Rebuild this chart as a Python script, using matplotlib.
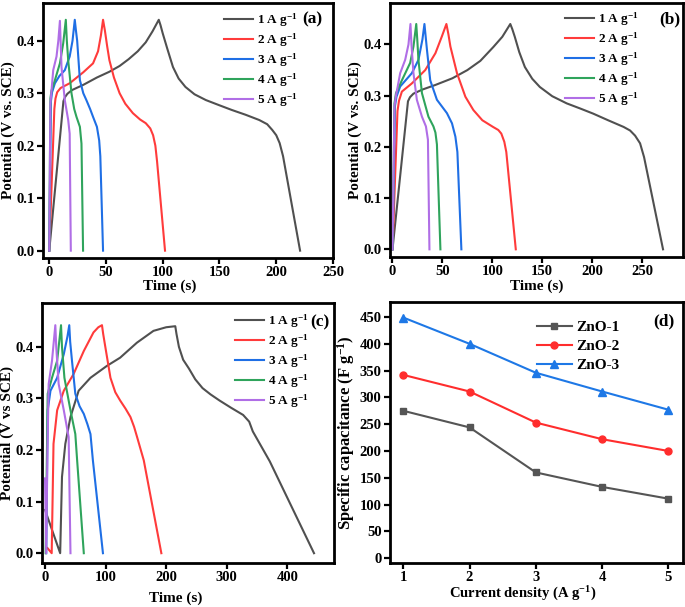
import matplotlib
matplotlib.use("Agg")
import matplotlib.pyplot as plt

plt.rcParams['font.family'] = ['Liberation Serif', 'DejaVu Serif']
plt.rcParams['font.weight'] = 'bold'
plt.rcParams['axes.labelweight'] = 'bold'
plt.rcParams['mathtext.fontset'] = 'custom'
plt.rcParams['mathtext.rm'] = 'Liberation Serif:bold'
plt.rcParams['mathtext.bf'] = 'Liberation Serif:bold'
plt.rcParams['mathtext.it'] = 'Liberation Serif:bold'
plt.rcParams['mathtext.default'] = 'bf'

rates = ["1 A g$^{-1}$", "2 A g$^{-1}$", "3 A g$^{-1}$", "4 A g$^{-1}$", "5 A g$^{-1}$"]
colors = ["#505050", "#ff3b3b", "#1f6fe5", "#2fa45c", "#b06ee6"]

# Panel (a): GCD curves (time s, potential V)
a_t = [
    [0, 12.5, 14, 16, 20, 30, 42, 53, 62, 70, 78, 85, 91, 96.5, 98, 100, 104, 109, 114, 120, 128, 138, 150,
     161, 173, 185, 192, 196.5, 200, 203, 206, 221],
    [0, 4.5, 5.5, 7, 10, 18, 30, 38.6, 43, 45.5, 47.4, 49, 51, 53, 57, 62, 67, 73.7, 80, 85, 89, 91.5, 93.5, 95, 102],
    [0, 1.5, 2.5, 5, 9, 13.7, 18, 20.5, 22.5, 23.5, 24.6, 27, 30, 32.7, 36, 38.6, 42, 44, 45, 47.4],
    [0, 1, 2, 5, 9.4, 12.3, 14.6, 15.5, 16.7, 19.6, 22, 24, 27, 28.4, 29.8],
    [0, 1, 2, 3.5, 6.4, 8, 9.4, 10, 10.8, 13.7, 16.7, 18, 19],
]
a_v = [
    [0, 0.285, 0.293, 0.299, 0.306, 0.316, 0.33, 0.341, 0.352, 0.365, 0.38, 0.397, 0.418, 0.44, 0.43, 0.414,
     0.385, 0.35, 0.328, 0.312, 0.298, 0.287, 0.277, 0.268, 0.259, 0.249, 0.241, 0.23, 0.22, 0.205, 0.18, 0],
    [0, 0.27, 0.29, 0.302, 0.31, 0.319, 0.34, 0.357, 0.38, 0.41, 0.44, 0.42, 0.39, 0.363, 0.33, 0.30, 0.28,
     0.262, 0.25, 0.243, 0.233, 0.22, 0.2, 0.17, 0],
    [0, 0.285, 0.302, 0.319, 0.333, 0.344, 0.37, 0.40, 0.44, 0.42, 0.40, 0.325, 0.30, 0.287, 0.27, 0.255,
     0.236, 0.21, 0.18, 0],
    [0, 0.29, 0.305, 0.325, 0.357, 0.395, 0.44, 0.40, 0.363, 0.30, 0.27, 0.255, 0.236, 0.204, 0],
    [0, 0.28, 0.305, 0.344, 0.37, 0.40, 0.438, 0.40, 0.35, 0.287, 0.249, 0.223, 0],
]

# Panel (b)
b_t = [
    [0, 15.5, 17.5, 21, 30, 43, 60, 75, 88, 101, 110, 118, 120, 122.5, 127, 132.6, 140, 147.6, 160, 174.5,
     188, 201, 216, 231.5, 238, 243, 248, 252, 271],
    [0, 5, 6.5, 9.4, 19.4, 32.8, 43, 49.5, 54, 56, 58, 64.6, 73, 81, 90, 100.7, 106, 109, 112, 114, 123.5],
    [0, 2.5, 4, 7.7, 19.4, 26, 30, 32, 33, 34.5, 37.8, 44.5, 54.5, 59.6, 63, 65, 69],
    [0, 2, 3.5, 9.4, 17.7, 21, 23.8, 24.8, 26, 29.5, 36, 41, 43, 44.5, 48],
    [0, 2, 3.5, 7.7, 12.7, 16, 18, 19, 21, 24.4, 29.5, 33.5, 35.5, 37],
]
b_v = [
    [0, 0.289, 0.297, 0.304, 0.312, 0.321, 0.334, 0.35, 0.368, 0.395, 0.415, 0.44, 0.43, 0.415, 0.385,
     0.356, 0.333, 0.317, 0.299, 0.285, 0.275, 0.265, 0.252, 0.239, 0.232, 0.222, 0.207, 0.18, 0],
    [0, 0.27, 0.29, 0.308, 0.324, 0.35, 0.383, 0.416, 0.44, 0.42, 0.396, 0.344, 0.298, 0.272, 0.252, 0.239,
     0.233, 0.226, 0.21, 0.19, 0],
    [0, 0.28, 0.298, 0.318, 0.344, 0.37, 0.41, 0.44, 0.42, 0.39, 0.33, 0.292, 0.266, 0.246, 0.22, 0.19, 0],
    [0, 0.285, 0.305, 0.33, 0.364, 0.396, 0.44, 0.41, 0.37, 0.305, 0.259, 0.24, 0.228, 0.205, 0],
    [0, 0.28, 0.3, 0.344, 0.37, 0.40, 0.44, 0.40, 0.344, 0.292, 0.259, 0.24, 0.214, 0],
]

# Panel (c)
c_t = [
    [0, 25, 28, 33.5, 42, 55.5, 75, 102, 124, 151.6, 179, 200, 215, 217, 221, 228, 237.5, 248, 260, 273, 288,
     307, 327, 337, 343, 371, 444],
    [4, 11, 14, 20, 31, 47, 64, 80, 88, 94, 96, 99.5, 108, 116, 124, 133, 141, 147, 152, 163, 192],
    [2, 4.4, 9, 20, 31, 37, 40, 41.5, 44.5, 50, 57, 64, 70, 75, 79, 95.6],
    [1, 4.4, 11.5, 20, 26.4, 28, 32, 42, 50, 53, 64],
    [0, 2, 4, 6, 11.5, 17, 18.5, 22.5, 31, 39, 42],
]
c_v = [
    [0.084, 0, 0.148, 0.212, 0.264, 0.315, 0.34, 0.363, 0.379, 0.408, 0.431, 0.438, 0.44, 0.425, 0.40, 0.375,
     0.358, 0.337, 0.32, 0.308, 0.296, 0.282, 0.268, 0.255, 0.236, 0.178, 0],
    [0.01, 0, 0.212, 0.277, 0.315, 0.347, 0.392, 0.428, 0.438, 0.442, 0.425, 0.40, 0.34, 0.312, 0.296, 0.28,
     0.264, 0.245, 0.225, 0.18, 0],
    [0, 0.277, 0.315, 0.34, 0.386, 0.42, 0.442, 0.41, 0.373, 0.309, 0.285, 0.27, 0.25, 0.231, 0.18, 0],
    [0, 0.309, 0.34, 0.373, 0.442, 0.40, 0.34, 0.277, 0.231, 0.18, 0],
    [0.145, 0, 0.20, 0.328, 0.373, 0.442, 0.40, 0.328, 0.277, 0.225, 0],
]

# Panel (d)
current_density = [1, 2, 3, 4, 5]
zno1 = [275, 244, 160, 133, 111]
zno2 = [342, 311, 253, 222, 200]
zno3 = [449, 400, 346, 311, 277]

fig = plt.figure(figsize=(6.85, 6.07), dpi=100)
W, H = 685, 607

def add_ax(l, r, t, b):
    return fig.add_axes([l / W, (H - b) / H, (r - l) / W, (b - t) / H])

axa = add_ax(43, 333, 3, 258)
axb = add_ax(390, 683, 3, 257)
axc = add_ax(42, 334, 303, 563)
axd = add_ax(390, 683, 302, 563)

def style(ax):
    for s in ax.spines.values():
        s.set_linewidth(2.0)
    ax.tick_params(direction='out', width=1.6, length=4, labelsize=10.5, pad=2)
    for lab in ax.get_xticklabels() + ax.get_yticklabels():
        lab.set_fontweight('bold')

def gcd(ax, T, V, xlim, ylim, xticks, ylabel, xlab_pos, xlab_y):
    for t, v, c, r in zip(T, V, colors, rates):
        ax.plot(t, v, color=c, lw=1.5, label=r)
    ax.set_xlim(*xlim)
    ax.set_ylim(*ylim)
    ax.set_xticks(xticks)
    ax.set_yticks([0.0, 0.1, 0.2, 0.3, 0.4])
    ax.set_yticklabels(["0.0", "0.1", "0.2", "0.3", "0.4"])
    ax.set_xlabel("Time (s)", fontsize=11, fontweight='bold')
    ax.xaxis.set_label_coords(xlab_pos, xlab_y)
    ax.set_ylabel(ylabel, fontsize=11, fontweight='bold', labelpad=1)
    style(ax)
    return ax

gcd(axa, a_t, a_v, (-5.5, 250), (-0.014, 0.472), [0, 50, 100, 150, 200, 250],
    "Potential (V vs. SCE)", 0.438, -0.083)
gcd(axb, b_t, b_v, (-2.5, 291), (-0.015, 0.481), [0, 50, 100, 150, 200, 250],
    "Potential (V vs. SCE)", 0.5, -0.09)
gcd(axc, c_t, c_v, (-5, 477), (-0.019, 0.485), [0, 100, 200, 300, 400],
    "Potential (V vs SCE)", 0.459, -0.11)

leg_kw = dict(frameon=False, fontsize=9.5, handlelength=2.2, handletextpad=0.3,
              labelspacing=0.18, borderpad=0, borderaxespad=0, loc='upper left')
for ax, x0, y0 in [(axa, 0.625, 0.968), (axb, 0.597, 0.97), (axc, 0.66, 0.962)]:
    leg = ax.legend(bbox_to_anchor=(x0, y0), **leg_kw)
    for tx in leg.get_texts():
        tx.set_fontweight('bold')

axa.text(0.93, 0.935, "(a)", transform=axa.transAxes, fontsize=12.5, fontweight='bold', ha='center', va='center')
axb.text(0.955, 0.935, "(b)", transform=axb.transAxes, fontsize=12.5, fontweight='bold', ha='center', va='center')
axc.text(0.952, 0.925, "(c)", transform=axc.transAxes, fontsize=12.5, fontweight='bold', ha='center', va='center')

# Panel (d)
axd.plot(current_density, zno1, color="#555555", marker='s', ms=5, lw=1.5, label="ZnO-1")
axd.plot(current_density, zno2, color="#ff2d2d", marker='o', ms=5, lw=1.5, label="ZnO-2")
axd.plot(current_density, zno3, color="#1e78e6", marker='^', ms=5.5, lw=1.5, label="ZnO-3")
axd.set_xlim(0.8, 5.22)
axd.set_ylim(-9, 478)
axd.set_xticks([1, 2, 3, 4, 5])
axd.set_yticks(range(0, 451, 50))
axd.set_xlabel("Current density (A g$^{-1}$)", fontsize=10.5, fontweight='bold')
axd.xaxis.set_label_coords(0.454, -0.083)
axd.set_ylabel("Specific capacitance (F g$^{-1}$)", fontsize=12, fontweight='bold', labelpad=2)
style(axd)
legd = axd.legend(bbox_to_anchor=(0.50, 0.93), frameon=False, fontsize=11, handlelength=2.3,
                  handletextpad=0.3, labelspacing=0.35, borderpad=0, borderaxespad=0, loc='upper left')
for tx in legd.get_texts():
    tx.set_fontweight('bold')
axd.text(0.935, 0.925, "(d)", transform=axd.transAxes, fontsize=12.5, fontweight='bold', ha='center', va='center')

fig.savefig("out.png", dpi=100)
